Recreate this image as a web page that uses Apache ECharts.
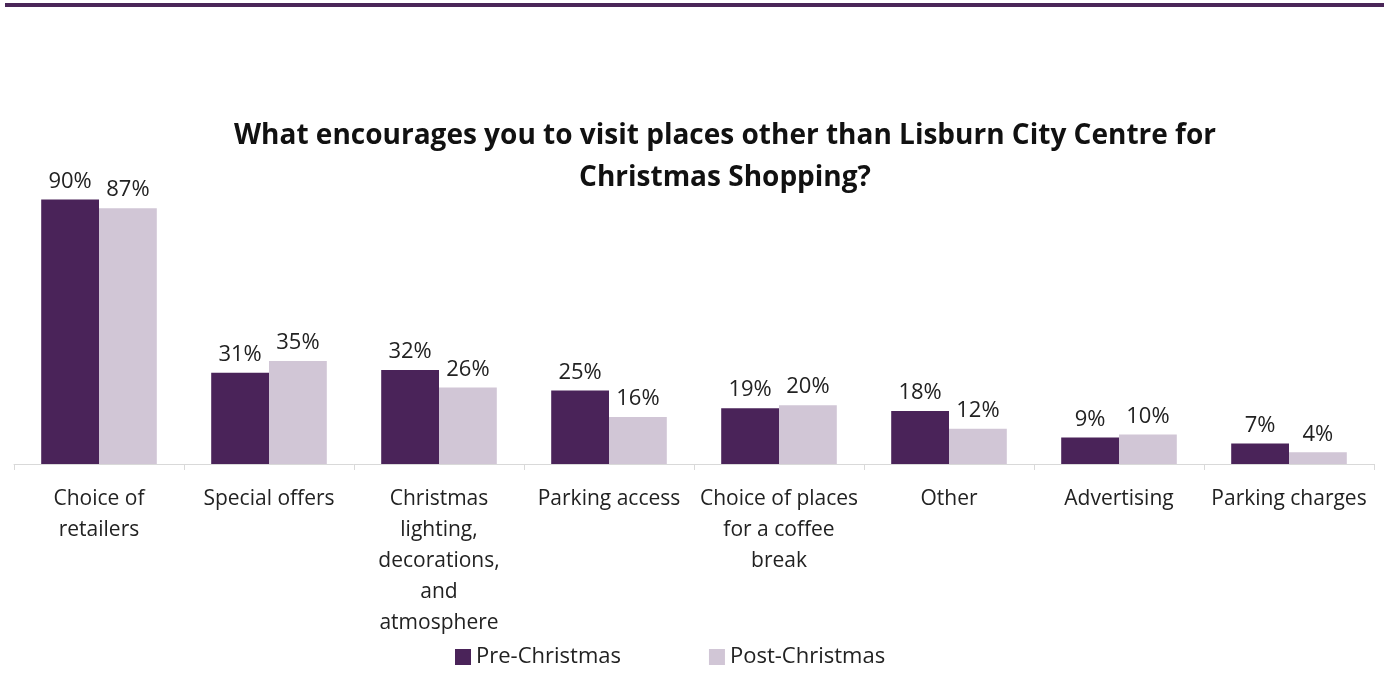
<!DOCTYPE html>
<html>
<head>
<meta charset="utf-8">
<script src="https://cdn.jsdelivr.net/npm/echarts@6/dist/echarts.min.js"></script>
<style>
  html, body { margin: 0; padding: 0; background: #ffffff; }
  #chart { width: 1384px; height: 677px; }
</style>
</head>
<body>
<div id="chart"></div>
<script>
const categories = [
  'Choice of\nretailers',
  'Special offers',
  'Christmas\nlighting,\ndecorations,\nand\natmosphere',
  'Parking access',
  'Choice of places\nfor a coffee\nbreak',
  'Other',
  'Advertising',
  'Parking charges'
];
const preChristmas = [90, 31, 32, 25, 19, 18, 9, 7];
const postChristmas = [87, 35, 26, 16, 20, 12, 10, 4];

const FONT = '"Open Sans", "Liberation Sans", sans-serif';
const PRE = '#4a2359';
const POST = '#d1c6d6';

const chart = echarts.init(document.getElementById('chart'));
chart.setOption({
  animation: false,
  backgroundColor: '#ffffff',
  title: {
    text: 'What encourages you to visit places other than Lisburn City Centre for\nChristmas Shopping?',
    left: 720,
    textAlign: 'center',
    top: 110,
    textStyle: { fontFamily: FONT, fontWeight: 'bold', fontSize: 28, color: '#111', lineHeight: 42 }
  },
  graphic: [
    // thin purple rule across the top of the page
    { type: 'rect', shape: { x: 5, y: 3, width: 1379, height: 4 }, style: { fill: '#4a2658' } }
  ],
  legend: {
    bottom: 4,
    left: 450,
    itemGap: 88,
    itemWidth: 16,
    itemHeight: 16,
    icon: 'rect',
    textStyle: { fontFamily: FONT, fontSize: 22, color: '#222' },
    data: ['Pre-Christmas', 'Post-Christmas']
  },
  grid: { left: 14, right: 10, top: 170, bottom: 213, containLabel: false },
  xAxis: {
    type: 'category',
    data: categories,
    axisLine: { lineStyle: { color: '#d9d9d9', width: 1 } },
    axisTick: { show: true, length: 6, lineStyle: { color: '#d9d9d9' } },
    axisLabel: { interval: 0, margin: 20, fontFamily: FONT, fontSize: 21, color: '#222', lineHeight: 31 }
  },
  yAxis: { type: 'value', min: 0, max: 100, show: false, splitLine: { show: false } },
  series: [
    {
      name: 'Pre-Christmas', type: 'bar', data: preChristmas,
      barGap: '0%', barCategoryGap: '32%',
      itemStyle: { color: PRE },
      label: { show: true, position: 'top', distance: 7, formatter: '{c}%', fontFamily: FONT, fontSize: 22, color: '#222' }
    },
    {
      name: 'Post-Christmas', type: 'bar', data: postChristmas,
      itemStyle: { color: POST },
      label: { show: true, position: 'top', distance: 7, formatter: '{c}%', fontFamily: FONT, fontSize: 22, color: '#222' }
    }
  ]
});
</script>
</body>
</html>
